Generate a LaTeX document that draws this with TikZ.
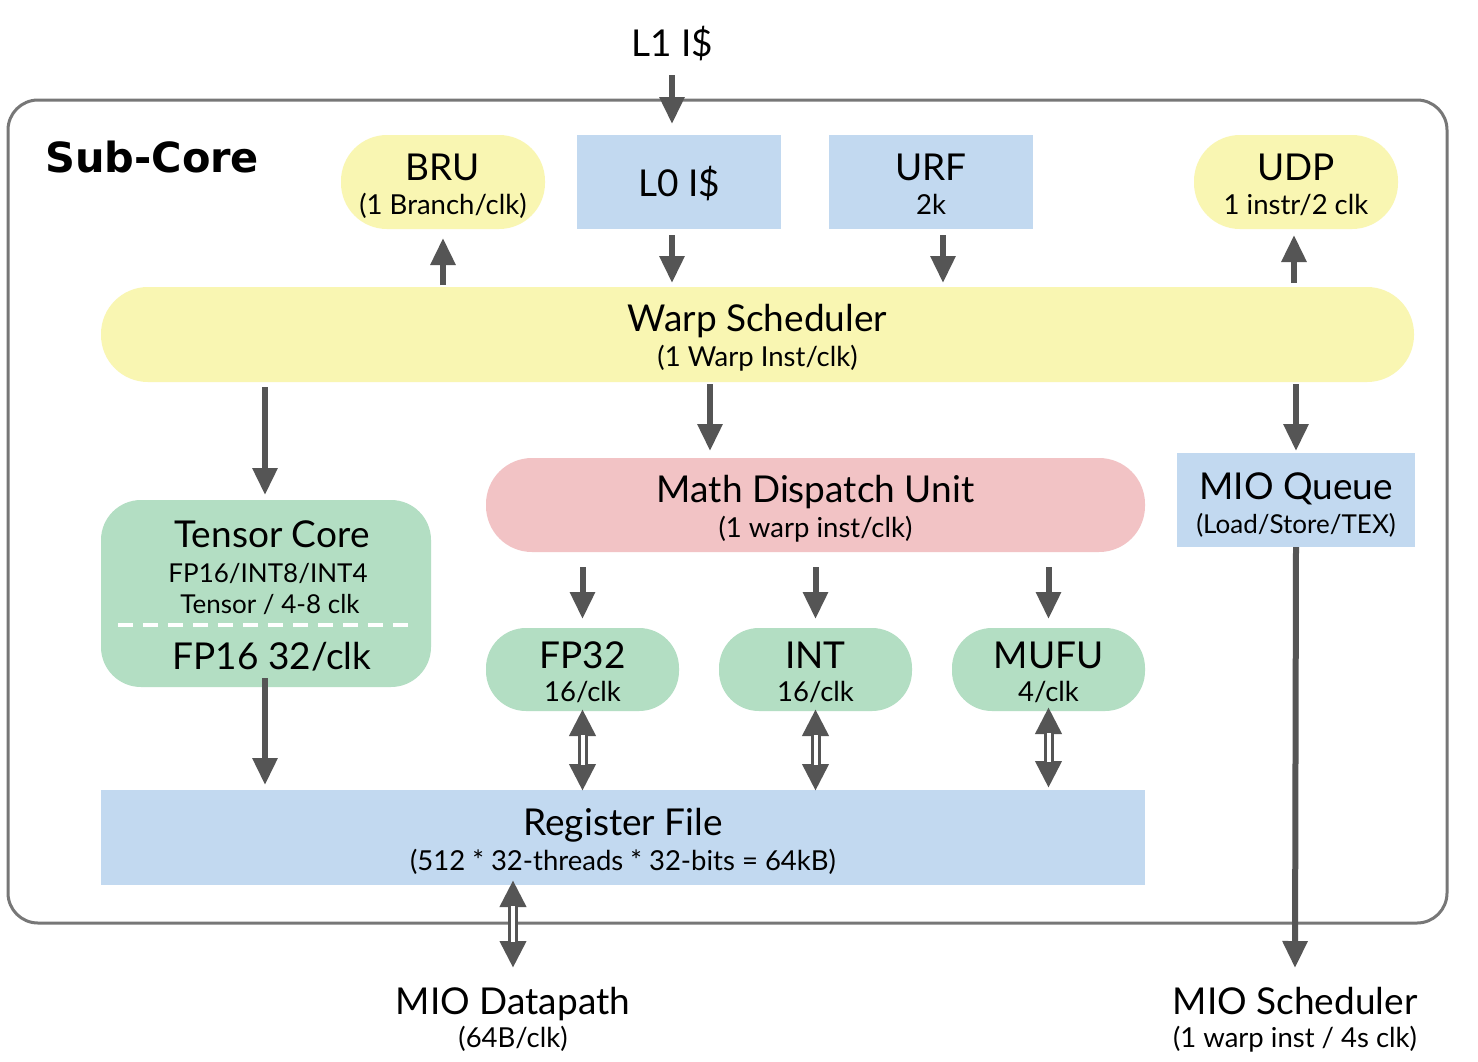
\documentclass[tikz,border=0pt]{standalone}
\usepackage{fontspec}
\setmainfont{Lato}
\newfontfamily\boldfam{DejaVu Sans}
\usetikzlibrary{arrows.meta,calc}
\definecolor{yel}{HTML}{F9F6B2}
\definecolor{blu}{HTML}{C2D9F0}
\definecolor{grn}{HTML}{B3DEC3}
\definecolor{pnk}{HTML}{F2C3C5}
\definecolor{arrg}{HTML}{555555}
\definecolor{frameg}{HTML}{777777}
\tikzset{
  box/.style={draw=none, inner sep=0pt, outer sep=0pt},
  yelbox/.style={box, fill=yel, rounded corners=46pt},
  blubox/.style={box, fill=blu},
  grnbox/.style={box, fill=grn, rounded corners=40pt},
  pnkbox/.style={box, fill=pnk, rounded corners=46pt},
  big/.style={anchor=base, inner sep=0pt, font=\fontsize{37}{40}\selectfont},
  small/.style={anchor=base, inner sep=0pt, font=\fontsize{27.5}{30}\selectfont},
  tsmall/.style={anchor=base, inner sep=0pt, font=\fontsize{26}{30}\selectfont},
  arr/.style={draw=arrg, line width=6pt, -{Triangle[length=27pt,width=24pt]}},
  dblouter/.style={draw=arrg, line width=10pt, {Triangle[length=27pt,width=25pt]}-{Triangle[length=27pt,width=25pt]}},
  dblinner/.style={draw=white, line width=4pt},
}
\newcommand{\dblarr}[2]{%
  \draw[dblouter] #1 -- #2;
  \draw[dblinner, shorten <=26pt, shorten >=26pt] #1 -- #2;}
\begin{document}
\begin{tikzpicture}[x=1pt,y=-1pt]
\useasboundingbox (0,0) rectangle (1478,1061);
\fill[white] (0,0) rectangle (1478,1061);
% frame
\draw[draw=frameg, line width=3pt, rounded corners=30pt] (8,100) rectangle (1447,923);
\node[anchor=base west, inner sep=0pt, font=\boldfam\bfseries\fontsize{41.5}{44}\selectfont] (subcore) at (45,172) {Sub-Core};

% top boxes
\node[yelbox, minimum width=204pt, minimum height=94pt] (bru) at (443,182) {};
\node[blubox, minimum width=204pt, minimum height=94pt] (l0) at (679,182) {};
\node[blubox, minimum width=204pt, minimum height=94pt] (urf) at (931,182) {};
\node[yelbox, minimum width=204pt, minimum height=94pt] (udp) at (1296,182) {};
\node[big] (l1t) at (672,56) {L1 I\$};
\node[big] (brut) at (443,180) {BRU};
\node[small] (brus) at (443,214) {(1 Branch/clk)};
\node[big] (l0t) at (679,196) {L0 I\$};
\node[big] (urft) at (931,180) {URF};
\node[small] (urfs) at (931,214) {2k};
\node[big] (udpt) at (1296,180) {UDP};
\node[small] (udps) at (1296,214) {1 instr/2 clk};

% warp scheduler
\node[yelbox, minimum width=1313pt, minimum height=95pt, rounded corners=47pt] (warp) at (757.5,334.5) {};
\node[big] (warpt) at (757.5,331) {Warp Scheduler};
\node[small] (warps) at (757.5,366) {(1 Warp Inst/clk)};

% tensor core
\node[grnbox, minimum width=330pt, minimum height=187pt] (tensor) at (266,593.5) {};
\node[big] (tct) at (272,547) {Tensor Core};
\node[tsmall] (tc1) at (268,582) {FP16/INT8/INT4};
\node[tsmall] (tc2) at (270,613) {Tensor / 4-8 clk};
\draw[white, line width=4pt, dash pattern=on 15pt off 10pt] (118,625) -- (415,625);
\node[big] (tc3) at (272,669) {FP16 32/clk};

% math dispatch
\node[pnkbox, minimum width=659pt, minimum height=94pt] (math) at (815.5,505) {};
\node[big] (matht) at (815.5,502) {Math Dispatch Unit};
\node[small] (maths) at (815.5,537) {(1 warp inst/clk)};

% MIO queue
\node[blubox, minimum width=238pt, minimum height=94pt] (mioq) at (1296,500) {};
\node[big] (mioqt) at (1296,499) {MIO Queue};
\node[tsmall] (mioqs) at (1296,533) {(Load/Store/TEX)};

% units
\node[grnbox, minimum width=193pt, minimum height=83pt] (fp32) at (582.5,669.5) {};
\node[grnbox, minimum width=193pt, minimum height=83pt] (int) at (815.5,669.5) {};
\node[grnbox, minimum width=193pt, minimum height=83pt] (mufu) at (1048.5,669.5) {};
\node[big] (fp32t) at (582.5,668) {FP32};
\node[small] (fp32s) at (582.5,701) {16/clk};
\node[big] (intt) at (815.5,668) {INT};
\node[small] (ints) at (815.5,701) {16/clk};
\node[big] (mufut) at (1048.5,668) {MUFU};
\node[small] (mufus) at (1048.5,701) {4/clk};

% register file
\node[blubox, minimum width=1044pt, minimum height=95pt] (rf) at (623,837.5) {};
\node[big] (rft) at (623,835) {Register File};
\node[small] (rfs) at (623,870) {(512 * 32-threads * 32-bits = 64kB)};

% bottom labels
\node[big] (miod) at (513,1014) {MIO Datapath};
\node[small] (miods) at (513,1047) {(64B/clk)};
\node[big] (mios) at (1295,1014) {MIO Scheduler};
\node[small] (mioss) at (1295,1047) {(1 warp inst / 4s clk)};

% coordinates for free ends
\coordinate (l1end) at (672,75);
\coordinate (miodtop) at (513,968);
\coordinate (miostop) at (1295,968);

% arrows
\draw[arr, shorten >=11pt] (l1end) -- (l1end |- l0.north);
\draw[arr, shorten <=6pt, shorten >=4pt] (l0.south -| 672,0) -- (warp.north -| 672,0);
\draw[arr, shorten <=6pt, shorten >=4pt] (urf.south -| 943,0) -- (warp.north -| 943,0);
\draw[arr, shorten <=2pt, shorten >=9pt] (warp.north -| bru) -- (bru.south);
\draw[arr, shorten <=4pt, shorten >=6pt] (warp.north -| 1294,0) -- (udp.south -| 1294,0);
\draw[arr, shorten <=5pt, shorten >=5pt] (warp.south -| 265,0) -- (tensor.north -| 265,0);
\draw[arr, shorten <=2pt, shorten >=7pt] (warp.south -| 710,0) -- (math.north -| 710,0);
\draw[arr, shorten <=2pt, shorten >=2pt] (warp.south -| mioq) -- (mioq.north);
\draw[arr, shorten <=15pt, shorten >=9pt] (math.south -| fp32) -- (fp32.north);
\draw[arr, shorten <=15pt, shorten >=9pt] (math.south -| int) -- (int.north);
\draw[arr, shorten <=15pt, shorten >=9pt] (math.south -| mufu) -- (mufu.north);
\draw[arr, shorten <=-9pt, shorten >=5pt] (tensor.south -| 265,0) -- (rf.north -| 265,0);
\draw[arr] (mioq.south) -- (miostop);
\dblarr{([yshift=2pt]fp32.south)}{([yshift=-1pt]rf.north -| fp32)}
\dblarr{([yshift=2pt]int.south)}{([yshift=-1pt]rf.north -| int)}
\dblarr{([yshift=4pt]mufu.south)}{([yshift=2pt]rf.north -| mufu)}
\dblarr{([yshift=5pt]rf.south -| miodtop)}{(miodtop)}
\end{tikzpicture}
\end{document}
